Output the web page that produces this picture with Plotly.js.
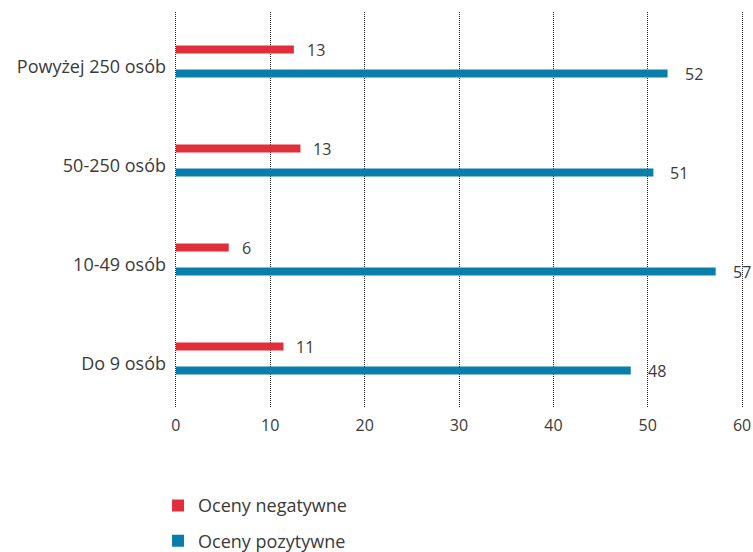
<!DOCTYPE html>
<html>
<head>
<meta charset="utf-8">
<script src="https://cdn.plot.ly/plotly-3.0.1.min.js"></script>
<style>
  html, body { margin: 0; padding: 0; background: #fff; }
  #chart { width: 753px; height: 552px; }
</style>
</head>
<body>
<div id="chart"></div>
<script>
const categories = ["Do 9 osób", "10-49 osób", "50-250 osób", "Powyżej 250 osób"];
const negativeValues = [11.4, 5.6, 13.2, 12.5];
const positiveValues = [48.2, 57.2, 50.6, 52.1];
const negativeLabels = ["11", "6", "13", "13"];
const positiveLabels = ["48", "57", "51", "52"];
const seriesNames = ["Oceny negatywne", "Oceny pozytywne"];
const xTicks = [0, 10, 20, 30, 40, 50, 60];

const RED = "#E12E3B";
const BLUE = "#0A7EAB";
const TEXT = "#3a3a3a";
const FONT = "'Open Sans', Lato, sans-serif";

const traces = [
  {
    type: "bar", orientation: "h", name: seriesNames[0],
    x: negativeValues, y: categories,
    width: 0.082, offset: 0.08,
    marker: { color: RED },
    legendgroup: "neg", legendrank: 1,
    hoverinfo: "skip"
  },
  {
    type: "bar", orientation: "h", name: seriesNames[1],
    x: positiveValues, y: categories,
    width: 0.082, offset: -0.162,
    marker: { color: BLUE },
    legendgroup: "pos", legendrank: 2,
    hoverinfo: "skip"
  }
];

const annotations = [];
categories.forEach((c, i) => {
  annotations.push({
    x: negativeValues[i], y: c, xref: "x", yref: "y",
    text: negativeLabels[i], showarrow: false,
    xanchor: "left", yanchor: "middle", xshift: 11, yshift: 12,
    font: { family: FONT, size: 16, color: TEXT }
  });
  annotations.push({
    x: positiveValues[i], y: c, xref: "x", yref: "y",
    text: positiveLabels[i], showarrow: false,
    xanchor: "left", yanchor: "middle", xshift: 15, yshift: -12,
    font: { family: FONT, size: 16, color: TEXT }
  });
});

const layout = {
  width: 753, height: 552,
  margin: { l: 174, r: 9, t: 12, b: 144, autoexpand: false },
  paper_bgcolor: "#fff", plot_bgcolor: "#fff",
  barmode: "overlay",
  showlegend: true,
  font: { family: FONT, size: 16, color: TEXT },
  xaxis: {
    range: [-0.2, 60.2], tickvals: xTicks, ticktext: xTicks.map(String),
    showgrid: true, gridcolor: "#222", griddash: "1px,1px", gridwidth: 1,
    zeroline: false,
    showline: false, ticks: "", ticklen: 0,
    ticklabelstandoff: 6,
    tickfont: { family: FONT, size: 16, color: TEXT },
    fixedrange: true
  },
  yaxis: {
    type: "category", categoryorder: "array", categoryarray: categories,
    range: [-0.5, 3.5],
    showgrid: false, zeroline: false, showline: false, ticks: "",
    ticklabelstandoff: 7, ticklabelshift: 5,
    tickfont: { family: FONT, size: 18, color: TEXT },
    fixedrange: true
  },
  legend: {
    x: -0.028, xanchor: "left", y: -0.2, yanchor: "top",
    orientation: "v", traceorder: "grouped", tracegroupgap: 9,
    font: { family: FONT, size: 18, color: TEXT },
    bgcolor: "rgba(0,0,0,0)"
  },
  annotations: annotations
};

Plotly.newPlot("chart", traces, layout, { displayModeBar: false, staticPlot: true });
</script>
</body>
</html>
